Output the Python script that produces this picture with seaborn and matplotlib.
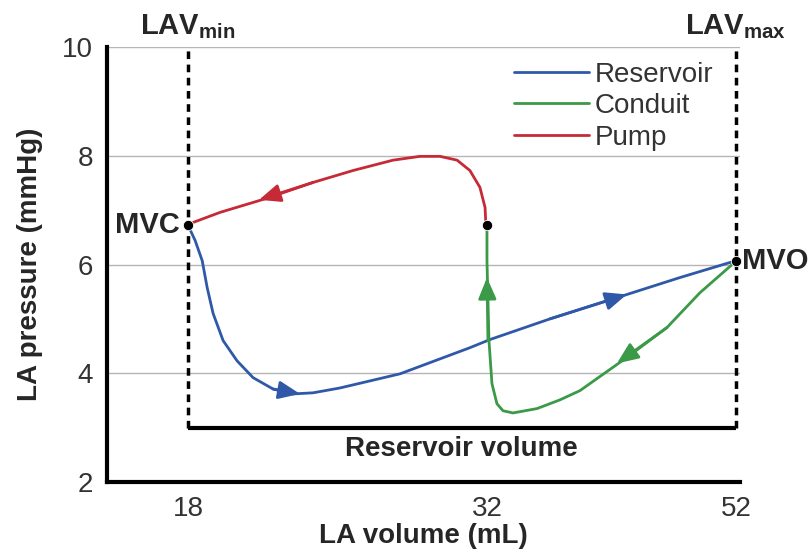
import numpy as np
import pandas as pd
import matplotlib
matplotlib.use('Agg')
import matplotlib.pyplot as plt
import seaborn as sns

# Data (read from the schematic pressure-volume loop)
res_vol = [18.0, 18.33, 18.66, 18.89, 19.17, 19.64, 20.29, 21.04, 21.98, 22.92, 23.85,
           25.12, 27.93, 31.20, 32.24, 37.06, 42.44, 47.5, 52.0]
res_pres = [6.72, 6.44, 6.07, 5.58, 5.10, 4.60, 4.23, 3.92, 3.71, 3.62, 3.64,
            3.73, 3.99, 4.47, 4.62, 5.00, 5.39, 5.76, 6.07]
con_vol = [52.0, 49.11, 46.46, 43.24, 39.47, 37.86, 36.02, 34.09, 33.29, 32.80,
           32.40, 32.16, 32.08, 32.0, 32.0]
con_pres = [6.06, 5.48, 4.84, 4.29, 3.68, 3.51, 3.35, 3.27, 3.31, 3.44,
            3.81, 4.60, 5.34, 6.07, 6.72]
pump_vol = [31.95, 31.91, 31.67, 31.20, 30.60, 29.80, 28.86, 27.60, 25.73, 23.85, 21.70, 19.50, 18.0]
pump_pres = [6.72, 7.05, 7.42, 7.73, 7.92, 7.99, 7.99, 7.92, 7.73, 7.51, 7.22, 6.96, 6.74]

point_vol = [18, 32, 52]
point_pres = [6.72, 6.72, 6.07]

# arrows: (tail, tip) on each curve
res_arrows = [((21.98, 3.71), (23.24, 3.62)), ((37.06, 5.00), (43.24, 5.45))]
con_arrows = [((32.08, 4.60), (32.0, 5.76)), ((46.46, 4.84), (42.44, 4.18))]
pump_arrows = [((23.85, 7.51), (21.32, 7.19))]

lav_min, lav_max = 18, 52
res_floor = 3.0

c_blue = '#2f59a8'
c_green = '#3b9a47'
c_red = '#c62a36'
c_text = '#262626'

sns.set_style('white')
plt.rcParams['font.family'] = ['Liberation Sans', 'DejaVu Sans']
plt.rcParams['mathtext.fontset'] = 'custom'
plt.rcParams['mathtext.bf'] = 'Liberation Sans:bold'
plt.rcParams['mathtext.rm'] = 'Liberation Sans'

# piecewise-linear x scale (schematic axis is not linear)
kv = [0, 18, 32, 100]
kp = [-384.4, 0, 299, 1145.6]


def fwd(v):
    return np.interp(v, kv, kp)


def inv(p):
    return np.interp(p, kp, kv)


fig = plt.figure(figsize=(8.12, 5.54), dpi=100)
ax = fig.add_axes([0.1318, 0.130, 0.779, 0.785])
ax.set_xscale('function', functions=(fwd, inv))

df_r = pd.DataFrame({'v': res_vol, 'p': res_pres})
df_c = pd.DataFrame({'v': con_vol, 'p': con_pres})
df_p = pd.DataFrame({'v': pump_vol, 'p': pump_pres})
sns.lineplot(data=df_r, x='v', y='p', sort=False, estimator=None, color=c_blue, lw=2, label='Reservoir', ax=ax)
sns.lineplot(data=df_c, x='v', y='p', sort=False, estimator=None, color=c_green, lw=2, label='Conduit', ax=ax)
sns.lineplot(data=df_p, x='v', y='p', sort=False, estimator=None, color=c_red, lw=2, label='Pump', ax=ax)
for ln in ax.get_lines():
    ln.set_solid_joinstyle('round')

for arrows, col in [(res_arrows, c_blue), (con_arrows, c_green), (pump_arrows, c_red)]:
    for tail, tip in arrows:
        ax.annotate('', xy=tip, xytext=tail,
                    arrowprops=dict(arrowstyle='-|>,head_length=1.3,head_width=0.55',
                                    color=col, lw=2, shrinkA=0, shrinkB=0))

sns.scatterplot(x=point_vol, y=point_pres, color='black', s=55, zorder=5, ax=ax, clip_on=False)

# dashed reservoir box
ax.vlines([lav_min, lav_max], res_floor, 10, colors='black', lw=2.5, linestyles=(0, (2.2, 1.6)), zorder=3, clip_on=False)
ax.hlines(res_floor, lav_min, lav_max, colors='black', lw=3, zorder=3)

ax.set_xlim(14.2, 52.3)
ax.set_ylim(2, 10)
ax.set_xticks([18, 32, 52])
ax.set_yticks([2, 4, 6, 8, 10])
ax.yaxis.grid(True, color='#b5b5b5', lw=1)
ax.set_axisbelow(True)
for s in ['top', 'right']:
    ax.spines[s].set_visible(False)
for s in ['left', 'bottom']:
    ax.spines[s].set_linewidth(3)
    ax.spines[s].set_color('black')
ax.tick_params(axis='both', labelsize=20, length=6, width=2, color='black', labelcolor='#333333', pad=4)

ax.set_xlabel('LA volume (mL)', fontsize=20, fontweight='bold', color=c_text, labelpad=1)
ax.set_ylabel('LA pressure (mmHg)', fontsize=20, fontweight='bold', color=c_text, labelpad=14)

ax.text(lav_min, 10.12, r'$\mathbf{LAV}_{\mathbf{min}}$', fontsize=21, ha='center', va='bottom', color=c_text)
ax.text(lav_max, 10.12, r'$\mathbf{LAV}_{\mathbf{max}}$', fontsize=21, ha='center', va='bottom', color=c_text, clip_on=False)
ax.text(17.6, 6.72, 'MVC', fontsize=21, fontweight='bold', ha='right', va='center', color=c_text)
ax.text(52.5, 6.07, 'MVO', fontsize=21, fontweight='bold', ha='left', va='center', color=c_text, clip_on=False)
ax.text(30.8, 2.61, 'Reservoir volume', fontsize=20, fontweight='bold', ha='center', va='center', color=c_text)

leg = ax.legend(loc='upper right', bbox_to_anchor=(0.985, 1.005), frameon=False, fontsize=20,
                handlelength=2.7, handletextpad=0.2, labelspacing=0.2, borderaxespad=0.2)
for t in leg.get_texts():
    t.set_color('#333333')

fig.savefig('out.png', dpi=100)
